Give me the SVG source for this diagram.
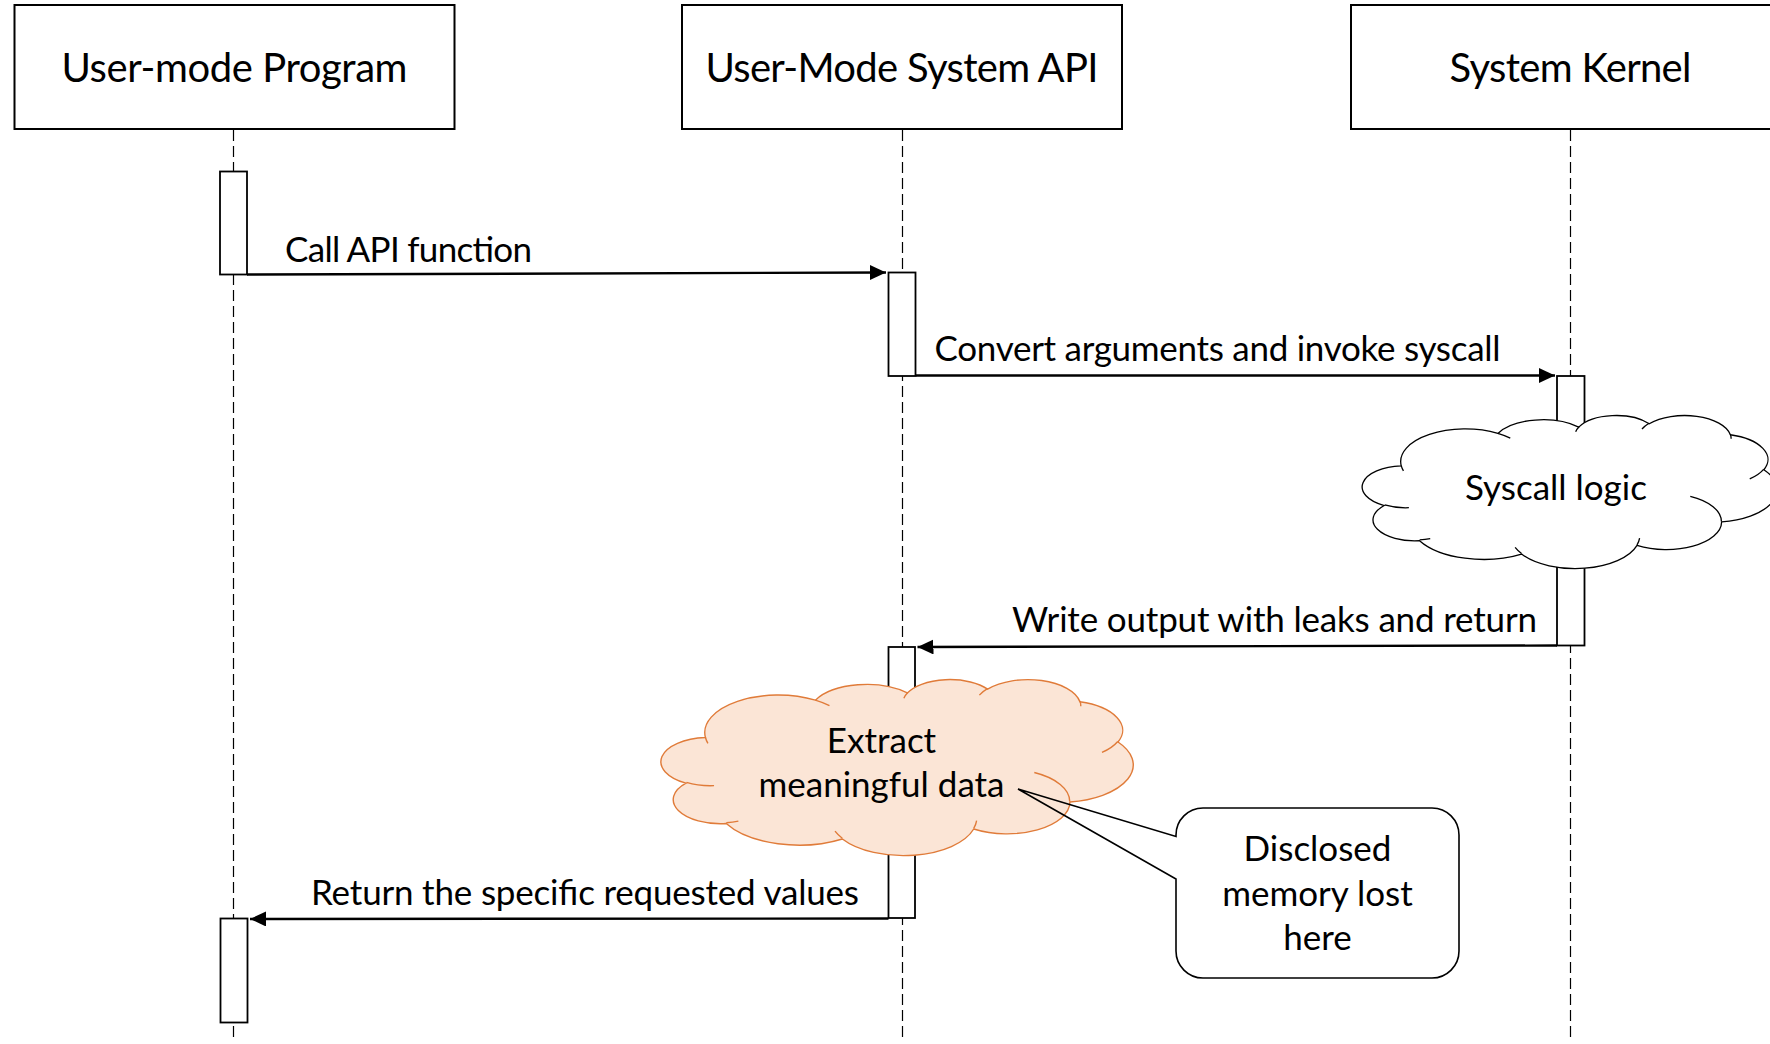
<svg xmlns="http://www.w3.org/2000/svg" xmlns:xlink="http://www.w3.org/1999/xlink" width="1770" height="1044" viewBox="0 0 1770 1044">
  <style>
    .actor { fill: #ffffff; stroke: #000000; stroke-width: 2; }
    .title { font-family: Lato, "Open Sans", "Liberation Sans", sans-serif; font-size: 40px; fill: #000000; text-anchor: middle; }
    .label { font-family: Lato, "Open Sans", "Liberation Sans", sans-serif; font-size: 35px; fill: #000000; }
    .mid { text-anchor: middle; }
    .lifeline { stroke: #000000; stroke-width: 1.2; stroke-dasharray: 11 5; fill: none; }
    .bar { fill: #ffffff; stroke: #000000; stroke-width: 1.8; }
    .msg { stroke: #000000; stroke-width: 2.4; fill: none; marker-end: url(#head); }
    .cloud-plain { fill: #ffffff; stroke: #000000; stroke-width: 1.3; }
    .cloud-warm { fill: #fbe5d6; stroke: #e07b39; stroke-width: 1.4; }
    .folds { fill: none; }
    .callout { fill: none; stroke: #000000; stroke-width: 1.6; }
  </style>
  <defs>
    <marker id="head" markerUnits="userSpaceOnUse" markerWidth="17" markerHeight="16" refX="16" refY="7.5" orient="auto">
      <path d="M0,0 L16,7.5 L0,15 Z" fill="#000000"/>
    </marker>
    <!-- cloud outline in a 43200 x 43200 unit box -->
    <path id="cloudShape" vector-effect="non-scaling-stroke" d="M3900 14370 A6753 9190 0 0 1 14006 5203 A5333 7267 0 0 1 22459 3434 A4365 5945 0 0 1 29837 2483 A4857 6595 0 0 1 38322 5578 A5333 7273 0 0 1 41822 15462 A6775 9220 0 0 1 37408 30204 A5785 7867 0 0 1 28560 36815 A6752 9215 0 0 1 16485 39268 A7720 10543 0 0 1 5809 35476 A4360 5918 0 0 1 2116 25557 A4345 5945 0 0 1 3900 14370 Z"/>
    <!-- inner fold strokes of the cloud -->
    <path id="cloudFolds" vector-effect="non-scaling-stroke" fill="none" d="M4693 26177 A4345 5945 0 0 1 2159 25380 M6928 34899 A4360 5918 0 0 1 5819 35281 M16478 39090 A6752 9215 0 0 1 15810 37349 M28827 34751 A6752 9215 0 0 1 28561 36659 M34129 22954 A5785 7867 0 0 1 37381 30090 M41798 15354 A5333 7273 0 0 1 40349 18031 M38324 5426 A4857 6595 0 0 1 38400 6690 M29078 3952 A4857 6595 0 0 1 29820 2340 M22141 4720 A4365 5945 0 0 1 22500 3330 M14000 5192 A6753 9190 0 0 1 15301 6542 M4127 15789 A6753 9190 0 0 1 3900 14371"/>
  </defs>

  <rect width="1770" height="1044" fill="#ffffff"/>

  <!-- participants -->
  <g id="user-program">
    <rect class="actor" x="14.5" y="5" width="440" height="124"/>
    <text class="title" x="234.5" y="82" textLength="346">User-mode Program</text>
    <line class="lifeline" x1="233.5" y1="130" x2="233.5" y2="1040"/>
  </g>
  <g id="system-api">
    <rect class="actor" x="682" y="5" width="440" height="124"/>
    <text class="title" x="902" y="82" textLength="393">User-Mode System API</text>
    <line class="lifeline" x1="902.5" y1="130" x2="902.5" y2="1040"/>
  </g>
  <g id="system-kernel">
    <rect class="actor" x="1351" y="5" width="440" height="124"/>
    <text class="title" x="1570.5" y="82" textLength="242">System Kernel</text>
    <line class="lifeline" x1="1570.5" y1="130" x2="1570.5" y2="1040"/>
  </g>

  <!-- activation bars -->
  <g id="activation-program-1"><rect class="bar" x="220" y="171.5" width="27" height="103"/></g>
  <g id="activation-api-1"><rect class="bar" x="888.5" y="272.5" width="27" height="103.5"/></g>
  <g id="activation-kernel"><rect class="bar" x="1557" y="376" width="27.5" height="269.5"/></g>
  <g id="activation-api-2"><rect class="bar" x="888.5" y="647" width="26.5" height="271"/></g>
  <g id="activation-program-2"><rect class="bar" x="220.5" y="918.5" width="27" height="104"/></g>

  <!-- messages -->
  <g id="connectors">
    <path class="msg" d="M247,274.5 L886,272.5"/>
    <path class="msg" d="M916,375.5 L1555,375.5"/>
    <path class="msg" d="M1557,645.5 L917.5,647"/>
    <path class="msg" d="M888.5,918.5 L250,919"/>
    <text class="label" x="285" y="262" textLength="247">Call API function</text>
    <text class="label" x="934.5" y="361" textLength="566">Convert arguments and invoke syscall</text>
    <text class="label" x="1012" y="632" textLength="525">Write output with leaks and return</text>
    <text class="label" x="311" y="905" textLength="548">Return the specific requested values</text>
  </g>

  <!-- syscall logic cloud -->
  <g id="syscall-logic">
    <g transform="translate(1364 415) scale(0.0095602 0.0035417)">
      <use xlink:href="#cloudShape" class="cloud-plain"/>
      <use xlink:href="#cloudFolds" class="cloud-plain folds"/>
    </g>
    <text class="label mid" x="1556" y="500">Syscall logic</text>
  </g>

  <!-- extraction cloud -->
  <g id="extract-data">
    <g transform="translate(663 679) scale(0.0108796 0.0040741)">
      <use xlink:href="#cloudShape" class="cloud-warm"/>
      <use xlink:href="#cloudFolds" class="cloud-warm folds"/>
    </g>
    <text class="label mid" x="881.5" y="753">Extract</text>
    <text class="label mid" x="881.5" y="797">meaningful data</text>
  </g>

  <!-- callout note -->
  <g id="disclosed-note">
    <path class="callout" d="M1203,808 H1432 A27,27 0 0 1 1459,835 V951 A27,27 0 0 1 1432,978 H1203 A27,27 0 0 1 1176,951 V879 L1018,789 L1176,836.5 V835 A27,27 0 0 1 1203,808 Z"/>
    <text class="label mid" x="1317.5" y="861">Disclosed</text>
    <text class="label mid" x="1317.5" y="906">memory lost</text>
    <text class="label mid" x="1317.5" y="950">here</text>
  </g>
</svg>
